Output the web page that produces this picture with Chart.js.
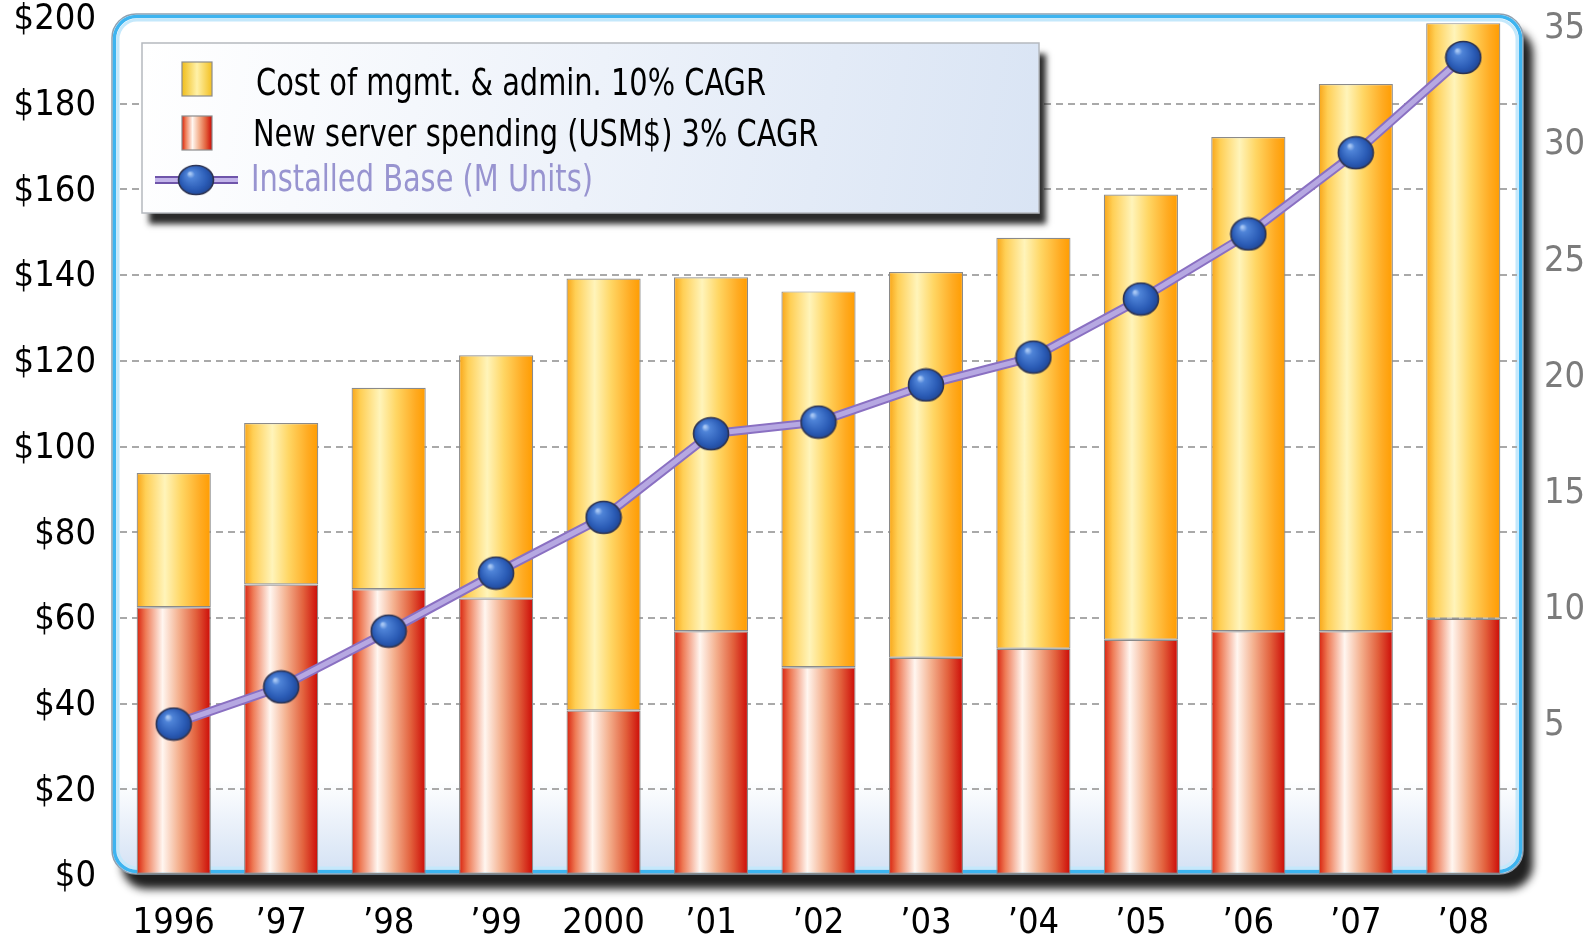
<!DOCTYPE html>
<html>
<head>
<meta charset="utf-8">
<script src="https://cdn.jsdelivr.net/npm/chart.js@4.4.1/dist/chart.umd.min.js"></script>
<style>
  html, body { margin: 0; padding: 0; background: #fff; }
  #wrap { position: relative; width: 1591px; height: 937px; }
</style>
</head>
<body>
<div id="wrap"><canvas id="serverChart"></canvas></div>
<script>
// data
const years = ['1996', '’97', '’98', '’99', '2000', '’01', '’02', '’03', '’04', '’05', '’06', '’07', '’08'];
const serverSpending = [62.5, 67.8, 66.7, 64.5, 38.4, 56.9, 48.5, 50.7, 52.8, 54.9, 56.9, 56.9, 59.8];
const mgmtCost = [31.3, 37.7, 47.0, 56.8, 100.8, 82.6, 87.7, 90.0, 95.9, 103.9, 115.3, 127.7, 139.0];
const installedBase = [4.9, 6.5, 8.9, 11.4, 13.8, 17.4, 17.9, 19.5, 20.7, 23.2, 26.0, 29.5, 33.6];
const dollarTicks = [0, 20, 40, 60, 80, 100, 120, 140, 160, 180, 200];
const unitTicks = [5, 10, 15, 20, 25, 30, 35];

const labelMgmt = 'Cost of mgmt. & admin. 10% CAGR';
const labelServer = 'New server spending (USM$) 3% CAGR';
const labelBase = 'Installed Base (M Units)';

const FONT = "'Liberation Sans Narrow', 'DejaVu Sans Condensed', 'Liberation Sans', sans-serif";
const BAR_PCT = 0.69;

const yellowStops = [[0, '#f8a416'], [0.12, '#ffcf55'], [0.38, '#fff4ba'], [0.6, '#ffd664'], [0.86, '#ffab22'], [1, '#ff9c00']];
const redStops = [[0, '#d8200c'], [0.12, '#ee7a55'], [0.35, '#fff6f0'], [0.57, '#f4b08e'], [0.8, '#e2603c'], [1, '#cc0a06']];
const swatchYellow = [[0, '#f0bd1a'], [0.5, '#fff1a8'], [1, '#f3c022']];

function makeGradient(ctx, x0, x1, stops) {
  const g = ctx.createLinearGradient(x0, 0, x1, 0);
  stops.forEach(s => g.addColorStop(s[0], s[1]));
  return g;
}

function barFill(stops) {
  return function (context) {
    const chart = context.chart;
    const xScale = chart.scales.x;
    if (!chart.chartArea || !xScale) return stops[2][1];
    const cx = xScale.getPixelForValue(context.dataIndex);
    const hw = (xScale.width / years.length) * BAR_PCT / 2;
    return makeGradient(chart.ctx, cx - hw, cx + hw, stops);
  };
}

function makeSphere(w, h) {
  const c = document.createElement('canvas');
  c.width = w;
  c.height = h;
  const g = c.getContext('2d');
  const grad = g.createRadialGradient(w * 0.34, h * 0.3, 1, w * 0.5, h * 0.5, w * 0.55);
  grad.addColorStop(0, '#a6c6f4');
  grad.addColorStop(0.16, '#4f84d8');
  grad.addColorStop(0.62, '#2b5cb6');
  grad.addColorStop(1, '#193a84');
  g.beginPath();
  g.ellipse(w / 2, h / 2, w / 2 - 1.5, h / 2 - 1.5, 0, 0, Math.PI * 2);
  g.fillStyle = grad;
  g.fill();
  g.lineWidth = 1.6;
  g.strokeStyle = '#2e3350';
  g.stroke();
  return c;
}

const sphere = makeSphere(38, 35);

function roundRect(ctx, x, y, w, h, r) {
  ctx.beginPath();
  ctx.moveTo(x + r, y);
  ctx.lineTo(x + w - r, y);
  ctx.arcTo(x + w, y, x + w, y + r, r);
  ctx.lineTo(x + w, y + h - r);
  ctx.arcTo(x + w, y + h, x + w - r, y + h, r);
  ctx.lineTo(x + r, y + h);
  ctx.arcTo(x, y + h, x, y + h - r, r);
  ctx.lineTo(x, y + r);
  ctx.arcTo(x, y, x + r, y, r);
  ctx.closePath();
}

// blue rounded frame behind the plot
const framePlugin = {
  id: 'frame',
  beforeDraw(chart) {
    const { ctx, chartArea: a } = chart;
    const x = a.left - 8, y = a.top - 4, w = a.right - a.left + 14, h = a.bottom - a.top + 3;
    ctx.save();
    roundRect(ctx, x, y, w, h, 24);
    ctx.shadowColor = 'rgba(20,20,20,0.95)';
    ctx.shadowOffsetX = 10;
    ctx.shadowOffsetY = 15;
    ctx.shadowBlur = 9;
    ctx.fillStyle = '#fff';
    ctx.fill();
    ctx.restore();

    ctx.save();
    roundRect(ctx, x, y, w, h, 24);
    const bg = ctx.createLinearGradient(0, y, 0, y + h);
    bg.addColorStop(0, '#ffffff');
    bg.addColorStop(0.89, '#ffffff');
    bg.addColorStop(1, '#d3e1f4');
    ctx.fillStyle = bg;
    ctx.fill();
    ctx.lineWidth = 1.5;
    ctx.strokeStyle = '#8fa0b0';
    ctx.stroke();
    roundRect(ctx, x + 2.5, y + 2.5, w - 5, h - 5, 22);
    ctx.lineWidth = 3.5;
    ctx.strokeStyle = '#3db4f0';
    ctx.stroke();
    roundRect(ctx, x + 6, y + 6, w - 12, h - 12, 19);
    ctx.lineWidth = 3;
    ctx.strokeStyle = '#c4e8fb';
    ctx.stroke();
    ctx.restore();
  }
};

// darker purple edge under the installed base line
const lineEdgePlugin = {
  id: 'lineEdge',
  beforeDatasetDraw(chart, args) {
    const ds = chart.data.datasets[args.index];
    if (ds.type !== 'line') return;
    const pts = args.meta.data;
    const ctx = chart.ctx;
    ctx.save();
    ctx.beginPath();
    pts.forEach((p, i) => (i ? ctx.lineTo(p.x, p.y) : ctx.moveTo(p.x, p.y)));
    ctx.lineWidth = 9;
    ctx.lineJoin = 'round';
    ctx.strokeStyle = '#8a70c2';
    ctx.stroke();
    ctx.restore();
  }
};

// boxed legend drawn over the plot
const legendPlugin = {
  id: 'boxLegend',
  afterDraw(chart) {
    const ctx = chart.ctx;
    const bx = 142, by = 43, bw = 897, bh = 170;
    ctx.save();
    ctx.shadowColor = 'rgba(20,20,20,0.9)';
    ctx.shadowOffsetX = 7;
    ctx.shadowOffsetY = 11;
    ctx.shadowBlur = 6;
    ctx.fillStyle = '#eef3fb';
    ctx.fillRect(bx, by, bw, bh);
    ctx.restore();

    ctx.save();
    const bg = ctx.createLinearGradient(bx, by, bx + bw, by + bh);
    bg.addColorStop(0, '#ffffff');
    bg.addColorStop(0.5, '#edf2fa');
    bg.addColorStop(1, '#d9e4f4');
    ctx.fillStyle = bg;
    ctx.fillRect(bx, by, bw, bh);
    ctx.lineWidth = 1.5;
    ctx.strokeStyle = '#b5b9bf';
    ctx.strokeRect(bx, by, bw, bh);

    const ds = chart.data.datasets;
    const mgmt = ds[1], server = ds[0], base = ds[2];

    // swatches
    ctx.fillStyle = makeGradient(ctx, 182, 212, swatchYellow);
    ctx.fillRect(182, 62, 30, 34);
    ctx.strokeStyle = '#8c8c8c';
    ctx.lineWidth = 1.2;
    ctx.strokeRect(182, 62, 30, 34);
    ctx.fillStyle = makeGradient(ctx, 182, 212, redStops);
    ctx.fillRect(182, 116, 30, 34);
    ctx.strokeRect(182, 116, 30, 34);

    // line symbol
    ctx.lineCap = 'butt';
    ctx.beginPath();
    ctx.moveTo(155, 180);
    ctx.lineTo(238, 180);
    ctx.lineWidth = 8;
    ctx.strokeStyle = '#6f55aa';
    ctx.stroke();
    ctx.lineWidth = 4;
    ctx.strokeStyle = '#c2b4ea';
    ctx.stroke();
    ctx.drawImage(sphere, 196 - 19, 180 - 16, 38, 32);

    // texts, squeezed to the condensed look of the original
    ctx.font = '38px ' + FONT;
    ctx.textBaseline = 'alphabetic';
    const sx = 510 / ctx.measureText(mgmt.label).width;
    const items = [
      [mgmt.label, 256, 95, '#000000'],
      [server.label, 253, 146, '#000000'],
      [base.label, 251, 191, '#9894d0']
    ];
    items.forEach(([txt, tx, ty, col]) => {
      ctx.save();
      ctx.translate(tx, ty);
      ctx.scale(sx, 1);
      ctx.fillStyle = col;
      ctx.fillText(txt, 0, 0);
      ctx.restore();
    });
    ctx.restore();
  }
};

const ctx = document.getElementById('serverChart').getContext('2d');

new Chart(ctx, {
  data: {
    labels: years,
    datasets: [
      {
        type: 'bar',
        label: labelServer,
        data: serverSpending,
        yAxisID: 'y',
        order: 1,
        backgroundColor: barFill(redStops),
        borderColor: '#8a8a8a',
        borderWidth: 1.2,
        borderSkipped: false,
        barPercentage: BAR_PCT,
        categoryPercentage: 1
      },
      {
        type: 'bar',
        label: labelMgmt,
        data: mgmtCost,
        yAxisID: 'y',
        order: 2,
        backgroundColor: barFill(yellowStops),
        borderColor: '#8a8a8a',
        borderWidth: 1.2,
        borderSkipped: false,
        barPercentage: BAR_PCT,
        categoryPercentage: 1
      },
      {
        type: 'line',
        label: labelBase,
        data: installedBase,
        yAxisID: 'y1',
        order: 0,
        borderColor: '#b6a8e2',
        borderWidth: 5,
        tension: 0,
        pointStyle: sphere,
        pointRadius: 18,
        pointHoverRadius: 18
      }
    ]
  },
  options: {
    responsive: true,
    maintainAspectRatio: false,
    animation: false,
    layout: { autoPadding: false, padding: { top: 18, left: 0, right: 0, bottom: 0 } },
    plugins: {
      legend: { display: false },
      tooltip: { enabled: false }
    },
    scales: {
      x: {
        stacked: true,
        grid: { display: false },
        border: { display: false },
        ticks: {
          autoSkip: false,
          maxRotation: 0,
          padding: 23,
          color: '#000',
          font: { family: FONT, size: 36, lineHeight: 1 }
        },
        afterFit: scale => { scale.height = 62; }
      },
      y: {
        stacked: true,
        position: 'left',
        min: 0,
        max: 200,
        border: { display: false, dash: [7, 5] },
        grid: {
          drawTicks: true,
          tickLength: 24,
          tickColor: 'rgba(0,0,0,0)',
          lineWidth: 2,
          color: c => (c.tick && (c.tick.value === 0 || c.tick.value === 200)) ? 'rgba(0,0,0,0)' : '#a9a9a9'
        },
        afterBuildTicks: scale => { scale.ticks = dollarTicks.map(v => ({ value: v })); },
        ticks: {
          padding: 0,
          labelOffset: 2,
          color: '#000',
          callback: v => '$' + v,
          font: { family: FONT, size: 36, lineHeight: 0.6 }
        },
        afterFit: scale => { scale.width = 120; }
      },
      y1: {
        position: 'right',
        min: -1.6,
        max: 35.3,
        border: { display: false },
        grid: { display: false, drawTicks: true, tickLength: 27, tickColor: 'rgba(0,0,0,0)' },
        afterBuildTicks: scale => { scale.ticks = unitTicks.map(v => ({ value: v })); },
        ticks: {
          padding: 0,
          labelOffset: 4,
          color: '#7b7b7b',
          font: { family: FONT, size: 36, lineHeight: 0.6 }
        },
        afterFit: scale => { scale.width = 74; }
      }
    }
  },
  plugins: [framePlugin, lineEdgePlugin, legendPlugin]
});
</script>
</body>
</html>
